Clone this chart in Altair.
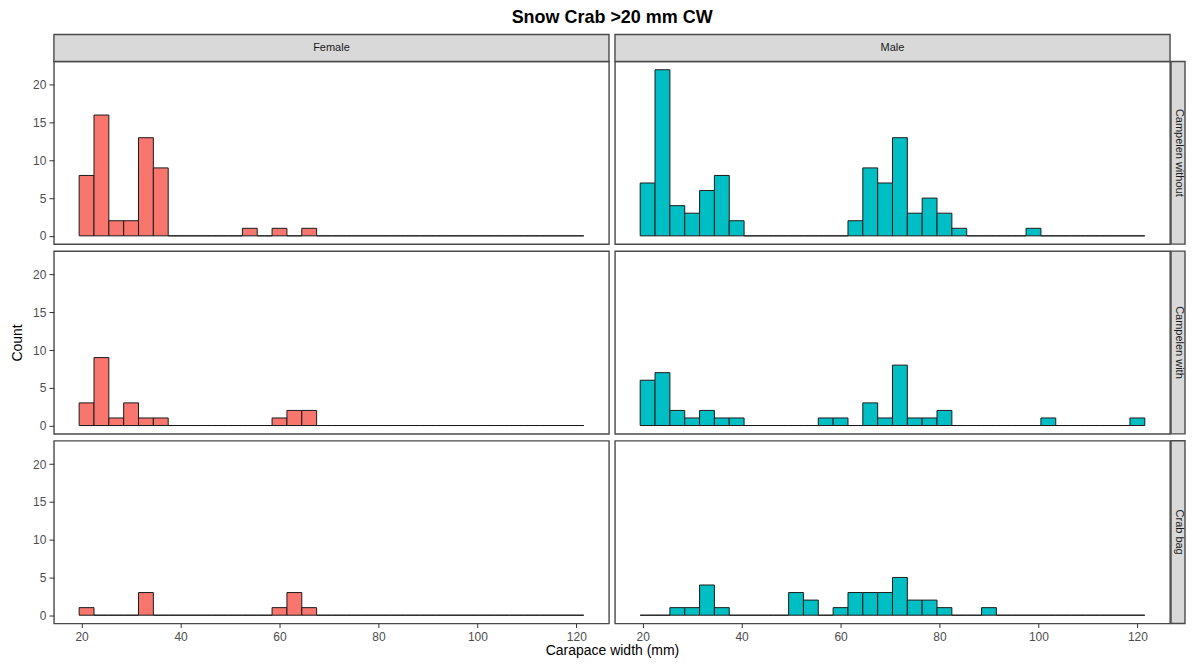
import altair as alt
import pandas as pd

FONT = "Liberation Sans"

sexes = ["Female", "Male"]
gears = ["Campelen without", "Campelen with", "Crab bag"]
fill_colors = ["#F8766D", "#00BFC4"]

bin_lo = [19.5, 22.5, 25.5, 28.5, 31.5, 34.5, 37.5, 40.5, 43.5, 46.5, 49.5, 52.5,
          55.5, 58.5, 61.5, 64.5, 67.5, 70.5, 73.5, 76.5, 79.5, 82.5, 85.5, 88.5,
          91.5, 94.5, 97.5, 100.5, 103.5, 106.5, 109.5, 112.5, 115.5, 118.5]
bin_hi = [22.5, 25.5, 28.5, 31.5, 34.5, 37.5, 40.5, 43.5, 46.5, 49.5, 52.5, 55.5,
          58.5, 61.5, 64.5, 67.5, 70.5, 73.5, 76.5, 79.5, 82.5, 85.5, 88.5, 91.5,
          94.5, 97.5, 100.5, 103.5, 106.5, 109.5, 112.5, 115.5, 118.5, 121.5]

female_without = [8, 16, 2, 2, 13, 9, 0, 0, 0, 0, 0, 1, 0, 1, 0, 1, 0, 0,
                  0, 0, 0, 0, 0, 0, 0, 0, 0, 0, 0, 0, 0, 0, 0, 0]
female_with = [3, 9, 1, 3, 1, 1, 0, 0, 0, 0, 0, 0, 0, 1, 2, 2, 0, 0,
               0, 0, 0, 0, 0, 0, 0, 0, 0, 0, 0, 0, 0, 0, 0, 0]
female_bag = [1, 0, 0, 0, 3, 0, 0, 0, 0, 0, 0, 0, 0, 1, 3, 1, 0, 0,
              0, 0, 0, 0, 0, 0, 0, 0, 0, 0, 0, 0, 0, 0, 0, 0]
male_without = [7, 22, 4, 3, 6, 8, 2, 0, 0, 0, 0, 0, 0, 0, 2, 9, 7, 13,
                3, 5, 3, 1, 0, 0, 0, 0, 1, 0, 0, 0, 0, 0, 0, 0]
male_with = [6, 7, 2, 1, 2, 1, 1, 0, 0, 0, 0, 0, 1, 1, 0, 3, 1, 8,
             1, 1, 2, 0, 0, 0, 0, 0, 0, 1, 0, 0, 0, 0, 0, 1]
male_bag = [0, 0, 1, 1, 4, 1, 0, 0, 0, 0, 3, 2, 0, 1, 3, 3, 3, 5,
            2, 2, 1, 0, 0, 1, 0, 0, 0, 0, 0, 0, 0, 0, 0, 0]

counts = {
    ("Female", "Campelen without"): female_without,
    ("Female", "Campelen with"): female_with,
    ("Female", "Crab bag"): female_bag,
    ("Male", "Campelen without"): male_without,
    ("Male", "Campelen with"): male_with,
    ("Male", "Crab bag"): male_bag,
}

x_ticks = [20, 40, 60, 80, 100, 120]
y_ticks = [0, 5, 10, 15, 20]
x_domain = [14.4, 126.6]
y_domain = [-1.1, 23.1]

W = 556
H = 183
STRIP = 27
SIDE = 15
BORDER = "#4A4A4A"
STRIP_FILL = "#D9D9D9"


def axis_common(**kw):
    return alt.Axis(
        domain=False, grid=False, tickColor="#333333", tickWidth=1,
        labelColor="#4D4D4D", labelFontSize=12, labelFont=FONT,
        titleFont=FONT, titleFontWeight="normal", titleColor="#000000",
        **kw)


def panel(ci, ri):
    sex = sexes[ci]
    gear = gears[ri]
    df = pd.DataFrame({"lo": bin_lo, "hi": bin_hi, "count": counts[(sex, gear)]})
    xs = alt.Scale(domain=x_domain, nice=False, zero=False)
    ys = alt.Scale(domain=y_domain, nice=False, zero=False)

    if ri == 2:
        if ci == 1:
            xax = axis_common(values=x_ticks, tickSize=4, labelPadding=4,
                              title="Carapace width (mm)", titleX=-3, titlePadding=1,
                              titleFontSize=14)
            xenc = alt.X("lo:Q", scale=xs, axis=xax)
        else:
            xax = axis_common(values=x_ticks, tickSize=4, labelPadding=4)
            xenc = alt.X("lo:Q", scale=xs, axis=xax, title=None)
    else:
        xenc = alt.X("lo:Q", scale=xs, axis=None)

    if ci == 0:
        if ri == 1:
            yax = axis_common(values=y_ticks, tickSize=5, labelPadding=3,
                              title="Count", titlePadding=8, titleFontSize=14)
            yenc = alt.Y("count:Q", scale=ys, axis=yax)
        else:
            yax = axis_common(values=y_ticks, tickSize=5, labelPadding=3)
            yenc = alt.Y("count:Q", scale=ys, axis=yax, title=None)
    else:
        yenc = alt.Y("count:Q", scale=ys, axis=None)

    bars = alt.Chart(df).mark_rect(
        fill=fill_colors[ci], stroke="#1A1A1A", strokeWidth=1
    ).encode(x=xenc, x2="hi:Q", y=yenc, y2=alt.datum(0))

    layers = [bars]

    if ri == 0:
        sdf = pd.DataFrame({"label": [sex]})
        layers.append(
            alt.Chart(sdf).mark_rect(fill=STRIP_FILL, stroke=BORDER, strokeWidth=1.4).encode(
                x=alt.value(0), x2=alt.value(W), y=alt.value(-STRIP), y2=alt.value(0)))
        layers.append(
            alt.Chart(sdf).mark_text(font=FONT, fontSize=11, color="#1A1A1A",
                                     align="center", baseline="middle").encode(
                x=alt.value(W / 2), y=alt.value(-STRIP / 2), text="label:N"))
    if ci == 1:
        gdf = pd.DataFrame({"label": [gear]})
        layers.append(
            alt.Chart(gdf).mark_rect(fill=STRIP_FILL, stroke=BORDER, strokeWidth=1.4).encode(
                x=alt.value(W + 1), x2=alt.value(W + SIDE), y=alt.value(0), y2=alt.value(H)))
        layers.append(
            alt.Chart(gdf).mark_text(font=FONT, fontSize=11, color="#1A1A1A", angle=90,
                                     align="center", baseline="middle").encode(
                x=alt.value(W + 9), y=alt.value(H / 2), text="label:N"))

    return alt.layer(*layers).properties(width=W, height=H)


cells = []
for ri in range(3):
    for ci in range(2):
        cells.append(panel(ci, ri))

chart = alt.concat(
    *cells, columns=2, spacing=alt.RowColnumber(row=7, column=6), bounds="flush",
    title=alt.Title("Snow Crab >20 mm CW", anchor="middle",
                    font=FONT, fontSize=18, fontWeight="bold", color="#000000",
                    offset=6, dx=14)
).properties(
    padding={"left": 1, "top": 0, "right": 0, "bottom": 0}
).configure(
    background="#FFFFFF"
).configure_view(
    stroke=BORDER, strokeWidth=1.4
)

chart.save("out.html", embed_options={"renderer": "svg", "actions": False})
